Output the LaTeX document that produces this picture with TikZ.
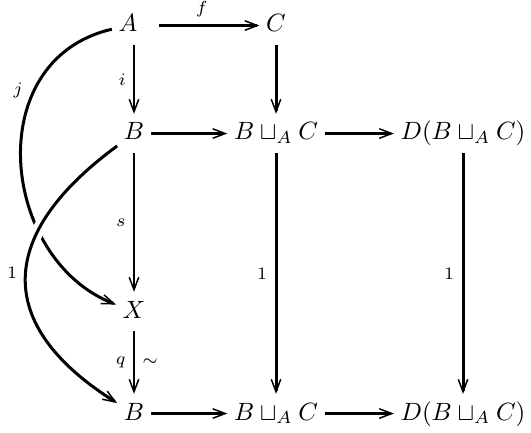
\documentclass[tikz,border=0pt]{standalone}
\usepackage{amsmath,amssymb}
\usepackage{tikz}
\usetikzlibrary{arrows.meta}
\tikzset{
  objekt/.style={inner sep=2.5pt, text height=1.8ex, text depth=0.6ex, anchor=base},
  pfeil/.style={draw=black, line width=1.2pt, -{Straight Barb[length=5pt,width=3.8pt,line width=0.6pt]}},
  duennpfeil/.style={pfeil, line width=0.7pt},
  marke/.style={font=\scriptsize, inner sep=3pt},
  ueber/.style={preaction={draw=white, line width=5pt, arrows=-}}
}

\begin{document}
\begin{tikzpicture}[x=0.4pt, y=-0.4pt]
\useasboundingbox (0,0) rectangle (531,432);

\node[objekt] (A) at (128,32) {$A$};
\node[objekt] (C) at (276,32) {$C$};
\node[objekt] (B) at (134,140) {$B$};
\node[objekt] (BC) at (276,140) {$B\sqcup_A C$};
\node[objekt] (DBC) at (463,140) {$D(B\sqcup_A C)$};
\node[objekt] (X) at (134,318) {$X$};
\node[objekt] (B2) at (134,420) {$B$};
\node[objekt] (BC2) at (276,420) {$B\sqcup_A C$};
\node[objekt] (DBC2) at (463,420) {$D(B\sqcup_A C)$};

\draw[pfeil, shorten <=6pt] (A) -- node[marke, above] {$f$} (C);
\draw[duennpfeil] (A.south -| B) -- node[marke, left] {$i$} (B);
\draw[pfeil] (C) -- (BC);
\draw[pfeil] (B) -- (BC);
\draw[pfeil] (BC) -- (DBC);
\draw[duennpfeil] (B) -- node[marke, left] {$s$} (X);
\draw[duennpfeil] (X) -- node[marke, left] {$q$} node[marke, right] {$\sim$} (B2);
\draw[pfeil] (BC) -- node[marke, left] {$1$} (BC2);
\draw[pfeil] (DBC) -- node[marke, left] {$1$} (DBC2);
\draw[pfeil] (B2) -- (BC2);
\draw[pfeil] (BC2) -- (DBC2);

% gebogene Pfeile links
\draw[pfeil] (A) .. controls +(-148,34) and +(-134,-52) .. (X);
\node[marke] (jmarke) at (18,90) {$j$};
\draw[pfeil, ueber] (B) .. controls +(-144,106) and +(-134,-84) .. (B2);
\node[marke] (einsmarke) at (12,273) {$1$};

\end{tikzpicture}
\end{document}
